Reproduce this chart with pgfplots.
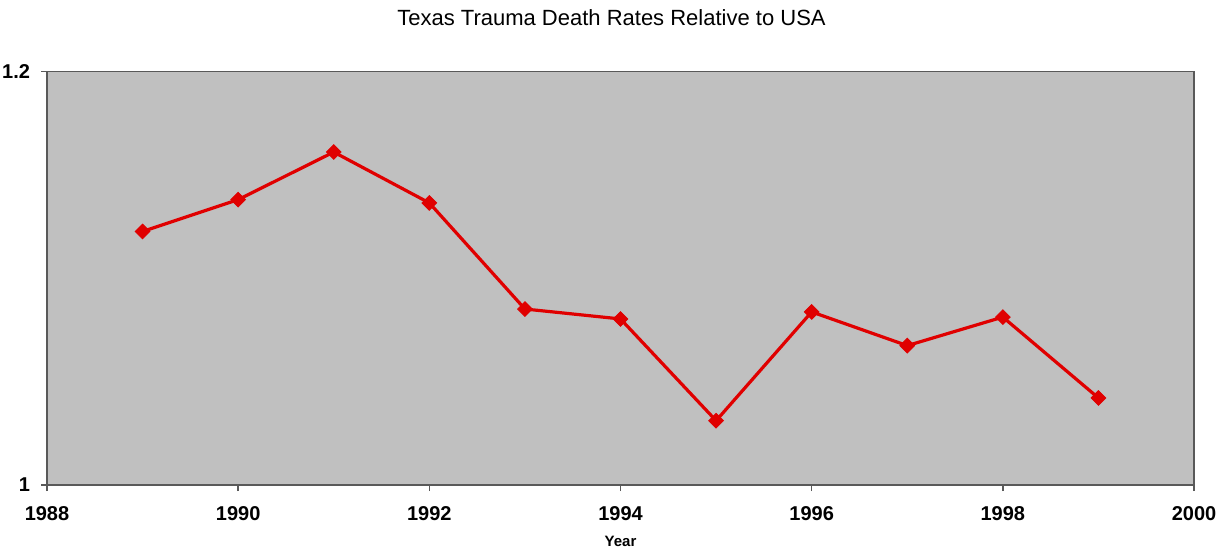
\documentclass[border=0pt]{standalone}
\usepackage{fontspec}
\setmainfont{Liberation Sans}
\usepackage{pgfplots}
\pgfplotsset{compat=1.18}
\definecolor{plotbg}{RGB}{192,192,192}
\definecolor{linered}{RGB}{224,0,0}
\begin{document}
\begin{tikzpicture}
\begin{axis}[
  at={(0pt,0pt)}, anchor=south west,
  scale only axis,
  width=573.5pt, height=206.8pt,
  xmin=1988, xmax=2000, ymin=1, ymax=1.2,
  xtick={1988,1990,...,2000},
  ytick={1,1.2},
  axis background/.style={fill=plotbg},
  axis line style={draw=black!65, line width=0.8pt},
  tick style={draw=black!65, line width=0.8pt},
  tick align=outside,
  major tick length=3pt,
  xtick pos=bottom, ytick pos=left,
  /pgf/number format/assume math mode=true,
  ticklabel style={font=\bfseries\fontsize{10}{12}\selectfont},
  x tick label style={/pgf/number format/1000 sep={}, yshift=-4pt},
  y tick label style={/pgf/number format/fixed, xshift=-2pt},
  xlabel={Year},
  xlabel style={font=\bfseries\fontsize{7.5}{9}\selectfont, yshift=-1pt},
  title={Texas Trauma Death Rates Relative to USA},
  title style={font=\fontsize{11}{13}\selectfont, yshift=13.5pt, xshift=-4.5pt},
  clip=false,
]
\addplot[color=linered, line width=1.6pt, mark=square*, mark size=2.6pt,
  mark options={fill=linered, draw=linered, line width=0.4pt, rotate=45}]
coordinates {
(1989,1.1226) (1990,1.1380) (1991,1.1610) (1992,1.1364) (1993,1.0851)
(1994,1.0803) (1995,1.0311) (1996,1.0837) (1997,1.0674) (1998,1.0812)
(1999,1.0421)
};
\end{axis}
\pgfresetboundingbox
\useasboundingbox (-23.5pt,-31.5pt) rectangle (589pt,242.5pt);
\end{tikzpicture}
\end{document}
